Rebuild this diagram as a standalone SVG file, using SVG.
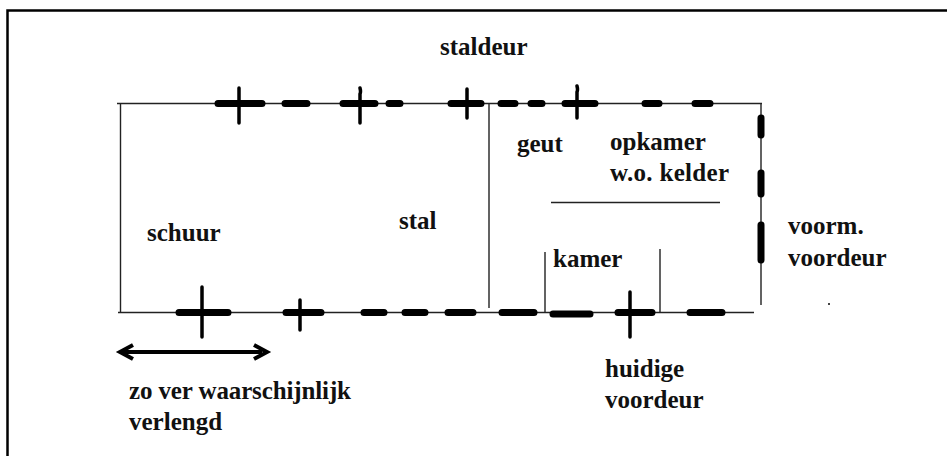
<svg xmlns="http://www.w3.org/2000/svg" width="947" height="456" viewBox="0 0 947 456">
<style>
.t{font-family:"Liberation Serif","Times New Roman",serif;font-weight:bold;font-size:25px;fill:#111}
.w{stroke:#222;stroke-width:1.4;fill:none}
.d{stroke:#000;stroke-width:7;stroke-linecap:round;fill:none}
.c{stroke:#000;stroke-width:3.500;stroke-linecap:round;fill:none}
.a{stroke:#000;stroke-width:4;fill:none}
</style>
<rect width="947" height="456" fill="#fff"/>
<path d="M7.500 456V10.500H947" fill="none" stroke="#000" stroke-width="2.500"/>
<g id="connectors">
<path class="w" d="M117 103.500H762M120.500 103.500V312M118 312.500H754M489 103.500V308M761 103.500V305M551 202.500H720M545 252V312M660 249V312"/>
<path class="d" d="M218 103.500H262M285 103.500H307M343 103.500H375M389 103.500H400M451 103.500H481M501 103.500H515M531 103.500H542M565 103.500H595M645 103.500H659M695 103.500H710"/>
<path class="d" d="M761 118V135M761 173V194M761 225V260"/>
<path class="d" d="M179 312.500H228M286 312.500H321M364 312.500H384M405 312.500H425M448 312.500H473M502 312.500H534M553 314H590M618 312.500H652M690 312.500H722"/>
<path class="c" d="M239 88V123M360 88Q361 92 360 94V123M467 89V118M577 86Q578 90 577 92V118M202 287V337M300 300V330M630 292V337"/>
<path class="a" d="M124 352H262M133 345L120 352L133 359M254 345L267 352L254 359"/>
</g>
<g id="n1"><text class="t" x="440" y="55">staldeur</text></g>
<g id="n2"><text class="t" x="517" y="152">geut</text></g>
<g id="n3"><text class="t" x="610" y="150">opkamer</text><text class="t" x="610" y="181" textLength="119">w.o. kelder</text></g>
<g id="n4"><text class="t" x="147" y="241">schuur</text></g>
<g id="n5"><text class="t" x="399" y="229">stal</text></g>
<g id="n6"><text class="t" x="553" y="267">kamer</text></g>
<g id="n7"><text class="t" x="788" y="234">voorm.</text><text class="t" x="788" y="266">voordeur</text></g>
<g id="n8"><text class="t" x="605" y="377">huidige</text><text class="t" x="605" y="408">voordeur</text></g>
<g id="n9"><text class="t" x="129" y="399" textLength="222">zo ver waarschijnlijk</text><text class="t" x="129" y="430">verlengd</text></g>
<rect x="828" y="303" width="2" height="2" fill="#444"/>
</svg>
